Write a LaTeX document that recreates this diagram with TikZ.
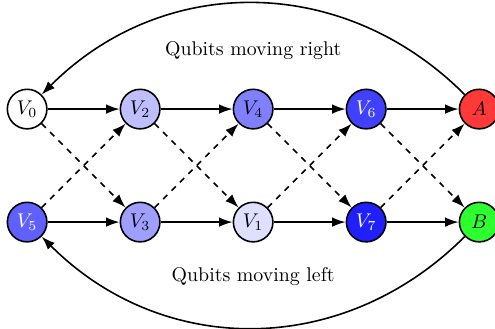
\documentclass[tikz,border=0pt]{standalone}
\usepackage{amsmath}
\usepackage{amssymb}
\usepackage{tikz}
\usetikzlibrary{arrows.meta}

\begin{document}
\begin{tikzpicture}[scale=1.0, thick, >={Latex[length=2.4mm, width=1.7mm]},
    qubit/.style={circle, draw=black, minimum size=0.7cm, inner sep=0pt}]
    \useasboundingbox (-0.48,-3.89) rectangle (8.28,1.93);

    % top row
    \node[qubit, fill=white] (v0) at (0,0) {$V_0$};
    \node[qubit, fill=blue!25] (v2) at (2,0) {$V_2$};
    \node[qubit, fill=blue!50] (v4) at (4,0) {$V_4$};
    \node[qubit, fill=blue!75, text=white] (v6) at (6,0) {$V_6$};
    \node[qubit, fill=red!78] (a) at (8,0) {$A$};

    % bottom row
    \node[qubit, fill=blue!62.5, text=white] (v5) at (0,-2) {$V_5$};
    \node[qubit, fill=blue!37.5] (v3) at (2,-2) {$V_3$};
    \node[qubit, fill=blue!12.5] (v1) at (4,-2) {$V_1$};
    \node[qubit, fill=blue!87.5, text=white] (v7) at (6,-2) {$V_7$};
    \node[qubit, fill=green!82] (b) at (8,-2) {$B$};

    % straight moves
    \draw[->] (v0) -- (v2);
    \draw[->] (v2) -- (v4);
    \draw[->] (v4) -- (v6);
    \draw[->] (v6) -- (a);
    \draw[->] (v5) -- (v3);
    \draw[->] (v3) -- (v1);
    \draw[->] (v1) -- (v7);
    \draw[->] (v7) -- (b);

    % swaps
    \draw[->, dashed] (v0) -- (v3);
    \draw[->, dashed] (v5) -- (v2);
    \draw[->, dashed] (v2) -- (v1);
    \draw[->, dashed] (v3) -- (v4);
    \draw[->, dashed] (v4) -- (v7);
    \draw[->, dashed] (v1) -- (v6);
    \draw[->, dashed] (v6) -- (b);
    \draw[->, dashed] (v7) -- (a);

    % wrap around
    \draw[->] (a) to[out=135, in=45, looseness=1.04] (v0);
    \draw[->] (b) to[out=-135, in=-45, looseness=1.04] (v5);

    \node (right) at (4,1.04) {Qubits moving right};
    \node (left) at (4,-2.97) {Qubits moving left};
\end{tikzpicture}
\end{document}
